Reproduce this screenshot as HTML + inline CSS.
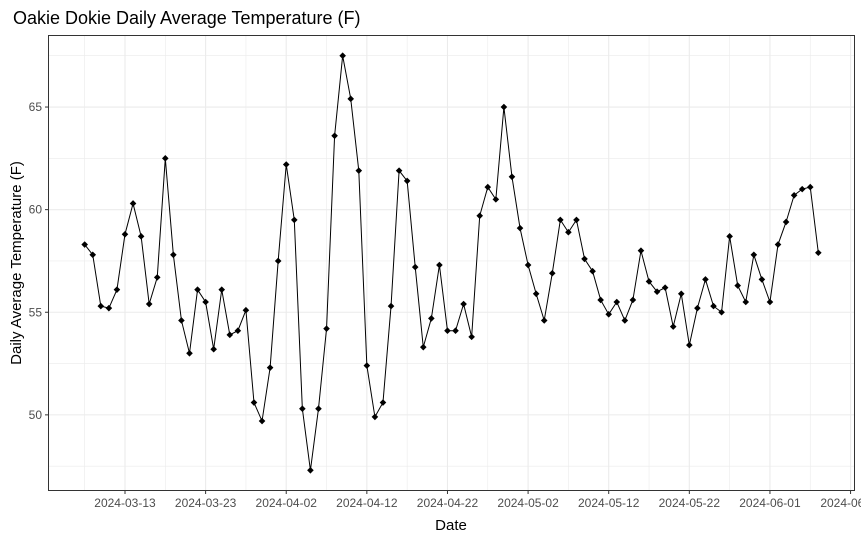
<!DOCTYPE html>
<html><head><meta charset="utf-8"><style>
body{margin:0;background:#fff;font-family:"Liberation Sans",Arial,sans-serif;}
svg text{font-family:"Liberation Sans",Arial,sans-serif;}
</style></head><body>
<svg id="chart" width="861" height="541" xmlns="http://www.w3.org/2000/svg">
<rect width="861" height="541" fill="#fff"/>
<text x="13" y="24" font-size="18" fill="#000">Oakie Dokie Daily Average Temperature (F)</text>
<g id="grid"></g>
<g id="series"></g>
<rect x="48.5" y="35.5" width="806" height="455" fill="none" stroke="#333" stroke-width="1"/>
<g id="axes"></g>
<text x="451" y="530" font-size="15" text-anchor="middle" fill="#000">Date</text>
<text transform="translate(21,263) rotate(-90)" font-size="15" text-anchor="middle" fill="#000">Daily Average Temperature (F)</text>
</svg>
<script>
const startDate = "2024-03-08";
const temps = [58.3,57.8,55.3,55.2,56.1,58.8,60.3,58.7,55.4,56.7,62.5,57.8,54.6,53.0,56.1,55.5,53.2,56.1,53.9,54.1,55.1,50.6,49.7,52.3,57.5,62.2,59.5,50.3,47.3,50.3,54.2,63.6,67.5,65.4,61.9,52.4,49.9,50.6,55.3,61.9,61.4,57.2,53.3,54.7,57.3,54.1,54.1,55.4,53.8,59.7,61.1,60.5,65.0,61.6,59.1,57.3,55.9,54.6,56.9,59.5,58.9,59.5,57.6,57.0,55.6,54.9,55.5,54.6,55.6,58.0,56.5,56.0,56.2,54.3,55.9,53.4,55.2,56.6,55.3,55.0,58.7,56.3,55.5,57.8,56.6,55.5,58.3,59.4,60.7,61.0,61.1,57.9];
const xTickLabels = ["2024-03-13","2024-03-23","2024-04-02","2024-04-12","2024-04-22","2024-05-02","2024-05-12","2024-05-22","2024-06-01","2024-06-11"];
const yTicks = [50,55,60,65];
const yMinor = [47.5,52.5,57.5,62.5,67.5];

const NS="http://www.w3.org/2000/svg";
const L=48,R=855,T=35,B=491;
const DAY=86400000;
const t0=Date.parse(startDate);
const dates=temps.map((_,i)=>t0+i*DAY);
const xMin=dates[0], xMax=dates[dates.length-1];
const xPad=(xMax-xMin)*0.05;
const yMin=Math.min(...temps), yMax=Math.max(...temps), yPad=(yMax-yMin)*0.05;
function xs(t){return L+(t-(xMin-xPad))/((xMax+xPad)-(xMin-xPad))*(R-L);}
function ys(v){return B-(v-(yMin-yPad))/((yMax+yPad)-(yMin-yPad))*(B-T);}
function mk(tag,attrs,parent){const e=document.createElementNS(NS,tag);for(const k in attrs)e.setAttribute(k,attrs[k]);parent.appendChild(e);return e;}
const grid=document.getElementById('grid'),axes=document.getElementById('axes'),series=document.getElementById('series');
// minor y grid
yMinor.forEach(v=>{const y=ys(v);if(y<T||y>B)return;
 const l=mk('line',{x1:L,x2:R,y1:y,y2:y,stroke:'#ebebeb','stroke-width':0.6},grid);
 
 });
// minor x grid (midpoints)
xTickLabels.forEach(s=>{const x=xs(Date.parse(s)-5*DAY);if(x<L||x>R)return;
 const l=mk('line',{x1:x,x2:x,y1:T,y2:B,stroke:'#ebebeb','stroke-width':0.6},grid);
 
 });
yTicks.forEach(v=>{const y=ys(v);
 const l=mk('line',{x1:L,x2:R,y1:y,y2:y,stroke:'#ebebeb','stroke-width':1.1},grid);
 
 
 const tk=mk('line',{x1:L-3,x2:L,y1:y,y2:y,stroke:'#333'},axes);
 
 
 const t=mk('text',{x:L-6,y:y+4,'font-size':12,'text-anchor':'end',fill:'#4d4d4d'},axes);
 t.textContent=v;
 
 });
xTickLabels.forEach(s=>{const x=xs(Date.parse(s));
 const l=mk('line',{x1:x,x2:x,y1:T,y2:B,stroke:'#ebebeb','stroke-width':1.1},grid);
 
 
 const tk=mk('line',{x1:x,x2:x,y1:B,y2:B+3,stroke:'#333'},axes);
 
 
 const t=mk('text',{x:x,y:B+16,'font-size':12,'text-anchor':'middle',fill:'#4d4d4d'},axes);
 t.textContent=s;
 
 });
const pts=temps.map((v,i)=>xs(dates[i]).toFixed(2)+','+ys(v).toFixed(2)).join(' ');
const pl=mk('polyline',{points:pts,fill:'none',stroke:'#000','stroke-width':1},series);


temps.forEach((v,i)=>{const x=xs(dates[i]),y=ys(v),r=3.3;
 const p=mk('polygon',{points:`${x},${y-r} ${x+r},${y} ${x},${y+r} ${x-r},${y}`,fill:'#000'},series);
 
 });
</script>
</body></html>
